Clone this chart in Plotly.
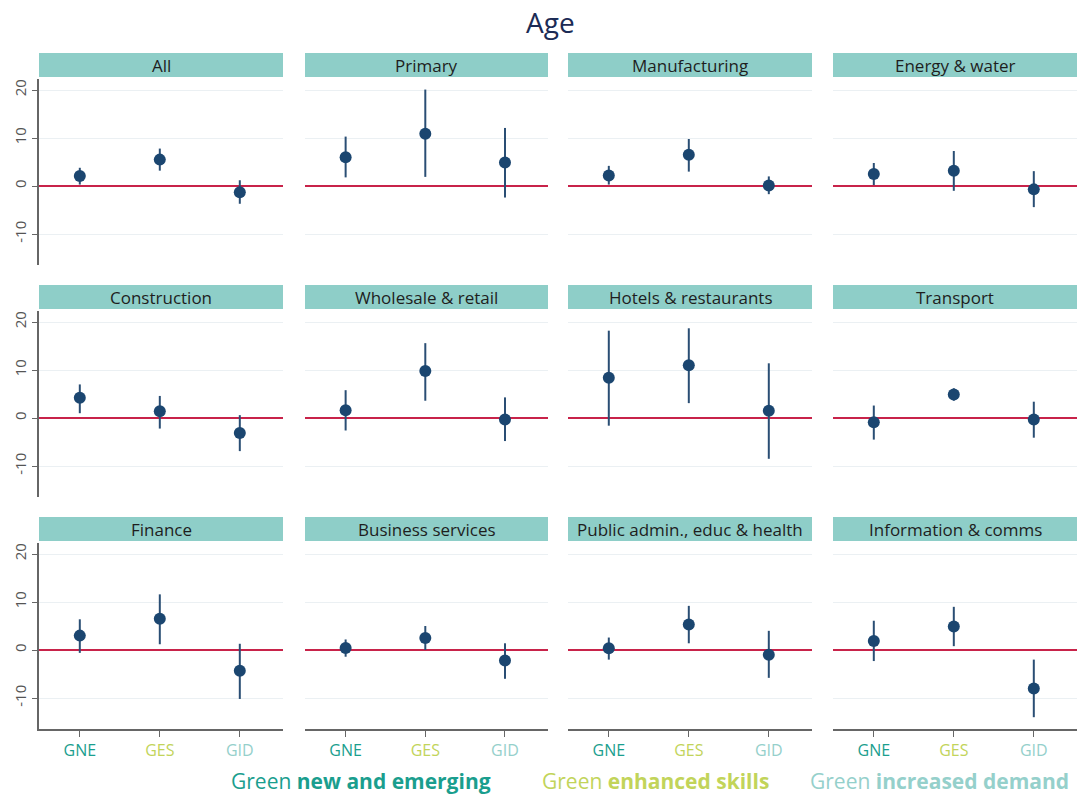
import plotly.graph_objects as go

W, H = 1082, 796

categories = ["GNE", "GES", "GID"]
cat_colors = ["#1A9E8E", "#C2D45A", "#95D0CB"]

panels = ["All", "Primary", "Manufacturing", "Energy & water",
          "Construction", "Wholesale & retail", "Hotels & restaurants", "Transport",
          "Finance", "Business services", "Public admin., educ & health", "Information & comms"]

estimate = [
    [2.1, 5.5, -1.3],
    [6.0, 10.9, 4.9],
    [2.2, 6.5, 0.1],
    [2.5, 3.2, -0.7],
    [4.2, 1.4, -3.1],
    [1.6, 9.8, -0.3],
    [8.4, 11.0, 1.5],
    [-0.9, 4.9, -0.3],
    [3.0, 6.5, -4.3],
    [0.4, 2.5, -2.2],
    [0.35, 5.3, -1.0],
    [1.9, 4.9, -8.0],
]
ci_low = [
    [0.3, 3.2, -3.7],
    [1.8, 1.9, -2.4],
    [0.3, 3.0, -1.7],
    [0.2, -1.0, -4.4],
    [1.0, -2.2, -6.9],
    [-2.6, 3.6, -4.8],
    [-1.6, 3.1, -8.5],
    [-4.5, 3.6, -4.1],
    [-0.6, 1.2, -10.2],
    [-1.4, 0.0, -6.0],
    [-2.0, 1.4, -5.8],
    [-2.3, 0.8, -14.0],
]
ci_high = [
    [3.8, 7.8, 1.2],
    [10.3, 20.1, 12.1],
    [4.2, 9.8, 2.0],
    [4.8, 7.3, 3.1],
    [7.0, 4.6, 0.6],
    [5.8, 15.6, 4.3],
    [18.2, 18.7, 11.4],
    [2.6, 6.2, 3.4],
    [6.4, 11.6, 1.3],
    [2.2, 5.0, 1.4],
    [2.6, 9.2, 4.0],
    [6.1, 9.0, -2.0],
]
y_ticks = [-10, 0, 10, 20]
y_ticklabels = ["-10", "0", "10", "20"]

FONT = "Open Sans"
col_x = [(39, 283), (305, 548), (568, 812), (833, 1077)]
row_top0 = 79
row_h = 186
row_step = 232
strip_h = 24

def px_x(v):
    return v / W

def px_y(v):
    return 1 - v / H

fig = go.Figure()
layout = {}
shapes = []
annotations = []

for i, name in enumerate(panels):
    r, c = divmod(i, 4)
    k = i + 1
    xa = "x" if k == 1 else f"x{k}"
    ya = "y" if k == 1 else f"y{k}"
    xkey = "xaxis" if k == 1 else f"xaxis{k}"
    ykey = "yaxis" if k == 1 else f"yaxis{k}"
    x0, x1 = col_x[c]
    top = row_top0 + r * row_step
    bot = top + row_h

    est = estimate[i]
    lo = ci_low[i]
    hi = ci_high[i]
    fig.add_trace(go.Scatter(
        x=categories, y=est, mode="markers",
        marker=dict(color="#1B4670", size=12),
        error_y=dict(type="data", symmetric=False,
                     array=[h - e for h, e in zip(hi, est)],
                     arrayminus=[e - l for e, l in zip(est, lo)],
                     color="#2A4E74", thickness=2, width=0),
        xaxis=xa, yaxis=ya, showlegend=False, cliponaxis=False,
    ))

    bottom_row = (r == 2)
    layout[xkey] = dict(
        domain=[px_x(x0), px_x(x1)], anchor=ya,
        type="category", categoryorder="array", categoryarray=categories,
        range=[-0.51, 2.54],
        showgrid=False, zeroline=False,
        showline=bottom_row, linecolor="#666666", linewidth=1.5,
        ticks="outside" if bottom_row else "", ticklen=6, tickcolor="#666666",
        showticklabels=bottom_row,
        tickvals=categories,
        ticktext=[f'<span style="color:{cc}">{t}</span>' for t, cc in zip(categories, cat_colors)],
        tickfont=dict(family=FONT, size=16),
    )
    first_col = (c == 0)
    layout[ykey] = dict(
        domain=[px_y(bot), px_y(top)], anchor=xa,
        range=[-16.46, 22.3],
        tickvals=y_ticks, ticktext=y_ticklabels,
        showgrid=True, gridcolor="#EBF0F3", gridwidth=1,
        zeroline=True, zerolinecolor="#C8234A", zerolinewidth=2,
        showline=first_col, linecolor="#666666", linewidth=1.5,
        ticks="outside" if first_col else "", ticklen=5, tickcolor="#666666",
        showticklabels=first_col, tickangle=-90,
        tickfont=dict(family=FONT, size=15, color="#555555"),
    )

    stop = top - 26
    shapes.append(dict(type="rect", xref="paper", yref="paper",
                       x0=px_x(x0), x1=px_x(x1), y0=px_y(stop + strip_h), y1=px_y(stop),
                       fillcolor="#8ECEC8", line=dict(width=0), layer="below"))
    annotations.append(dict(text=name, xref="paper", yref="paper",
                            x=px_x((x0 + x1) / 2), y=px_y(stop + strip_h / 2),
                            xanchor="center", yanchor="middle", showarrow=False,
                            font=dict(family=FONT, size=17, color="#1E1E1E")))

annotations.append(dict(text="Age", xref="paper", yref="paper", x=px_x(550), y=px_y(22),
                        xanchor="center", yanchor="middle", showarrow=False,
                        font=dict(family=FONT, size=28, color="#1B2B55")))

legend_items = [
    ("Green ", "new and emerging", cat_colors[0], 229),
    ("Green ", "enhanced skills", cat_colors[1], 540),
    ("Green ", "increased demand", cat_colors[2], 808),
]
for a, b, cc, xpos in legend_items:
    annotations.append(dict(text=f"{a}<b>{b}</b>", xref="paper", yref="paper",
                            x=px_x(xpos), y=px_y(781), xanchor="left", yanchor="middle",
                            showarrow=False, font=dict(family=FONT, size=21, color=cc)))

fig.update_layout(
    width=W, height=H,
    margin=dict(l=0, r=0, t=0, b=0),
    paper_bgcolor="white", plot_bgcolor="white",
    shapes=shapes, annotations=annotations,
    font=dict(family=FONT),
    **layout,
)

fig.write_html("out.html", config={"displayModeBar": False},
               post_script="document.body.style.margin='0';document.body.style.overflow='hidden';")
